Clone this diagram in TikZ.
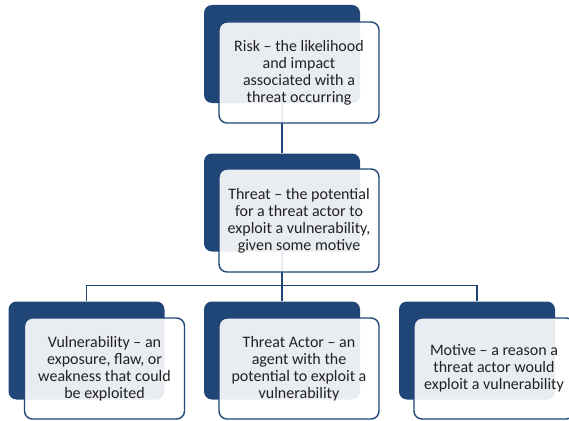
\documentclass[tikz,border=0pt]{standalone}
\usepackage{fontspec}
\setmainfont{Carlito}
\definecolor{navy}{HTML}{1F4677}
\definecolor{ink}{HTML}{222222}
\tikzset{
  back/.style={fill=navy, rounded corners=8pt, minimum width=156pt, minimum height=98pt, inner sep=0pt},
  front/.style={draw=navy, line width=1.4pt, fill=white, fill opacity=0.9, text opacity=1, text=ink,
    rounded corners=8pt, minimum width=160pt, minimum height=101pt, align=center,
    font=\fontsize{16}{17}\selectfont},
  link/.style={draw=navy, line width=1.8pt}
}

\begin{document}
\begin{tikzpicture}[x=1pt,y=-1pt]
            \useasboundingbox (0,0) rectangle (569,420);
            % dark blocks
            \node [back] (risk) at (282,54) {};
            \node [back] (threat) at (282,202.5) {};
            \node [back] (vuln) at (86.5,350.5) {};
            \node [back] (actor) at (282,350.5) {};
            \node [back] (motive) at (477,350.5) {};
            % links
            \coordinate (bus) at (282,285.5);
            \draw [link] (risk.south) -- (threat.north);
            \draw [link] (threat.south) -- (actor.north);
            \draw [link] (vuln.north) |- (bus) -| (motive.north);
            % text boxes
            \node [front] (riskbox) at (299,72.5) {Risk -- the likelihood\\and impact\\associated with a\\threat occurring};
            \node [front, minimum height=103pt] (threatbox) at (299,220.5) {Threat -- the potential\\for a threat actor to\\exploit a vulnerability,\\given some motive};
            \node [front] (vulnbox) at (104.5,368.5) {Vulnerability -- an\\exposure, flaw, or\\weakness that could\\be exploited};
            \node [front] (actorbox) at (299,368.5) {Threat Actor -- an\\agent with the\\potential to exploit a\\vulnerability};
            \node [front] (motivebox) at (494,368.5) {Motive -- a reason a\\threat actor would\\exploit a vulnerability};
        \end{tikzpicture}
\end{document}
